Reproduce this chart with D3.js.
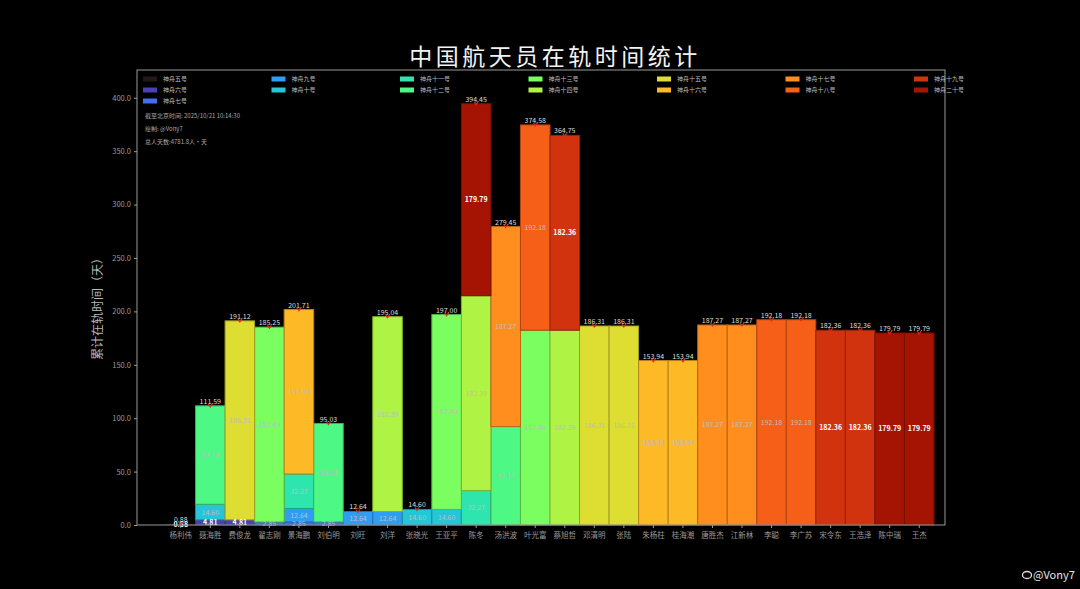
<!DOCTYPE html>
<html>
<head>
<meta charset="utf-8">
<script src="https://cdn.jsdelivr.net/npm/d3@7"></script>
<style>
  body { margin: 0; background: #000; }
  svg { display: block; }
  text { font-family: "Noto Sans CJK SC", "Noto Sans", sans-serif; }
</style>
</head>
<body>
<svg id="chart" width="1080" height="589"></svg>
<script>
// astronauts in x order
var astronauts = ["杨利伟", "聂海胜", "费俊龙", "翟志刚", "景海鹏", "刘伯明", "刘旺", "刘洋", "张晓光", "王亚平",
  "陈冬", "汤洪波", "叶光富", "蔡旭哲", "邓清明", "张陆", "朱杨柱", "桂海潮", "唐胜杰", "江新林",
  "李聪", "李广苏", "宋令东", "王浩泽", "陈中瑞", "王杰"];

var missions = ["神舟五号", "神舟六号", "神舟七号", "神舟九号", "神舟十号", "神舟十一号", "神舟十二号", "神舟十三号",
  "神舟十四号", "神舟十五号", "神舟十六号", "神舟十七号", "神舟十八号", "神舟十九号", "神舟二十号"];

// days in orbit per mission
var durations = [0.884, 4.81, 2.854, 12.644, 14.602, 32.266, 92.176, 182.396,
  182.394, 186.314, 153.944, 187.274, 192.184, 182.356, 179.788];

var crews = [
  ["杨利伟"],
  ["费俊龙", "聂海胜"],
  ["翟志刚", "刘伯明", "景海鹏"],
  ["景海鹏", "刘旺", "刘洋"],
  ["聂海胜", "张晓光", "王亚平"],
  ["景海鹏", "陈冬"],
  ["聂海胜", "刘伯明", "汤洪波"],
  ["翟志刚", "王亚平", "叶光富"],
  ["陈冬", "刘洋", "蔡旭哲"],
  ["费俊龙", "邓清明", "张陆"],
  ["景海鹏", "朱杨柱", "桂海潮"],
  ["汤洪波", "唐胜杰", "江新林"],
  ["叶光富", "李聪", "李广苏"],
  ["蔡旭哲", "宋令东", "王浩泽"],
  ["陈冬", "陈中瑞", "王杰"]
];

var yTicks = [0, 50, 100, 150, 200, 250, 300, 350, 400];
var notes = ["截至北京时间: 2025/10/21 10:14:30", "绘制: @Vony7"];

// build stacked segments per astronaut
var segments = [];
var totals = {};
astronauts.forEach(function(a) { totals[a] = 0; });
missions.forEach(function(m, i) {
  crews[i].forEach(function(a) {
    segments.push({ name: a, mission: m, idx: i, y0: totals[a], y1: totals[a] + durations[i], v: durations[i] });
    totals[a] += durations[i];
  });
});
var personDays = d3.sum(missions, function(m, i) { return durations[i] * crews[i].length; });
notes.push("总人天数:" + personDays.toFixed(1) + "人·天");

var svg = d3.select("#chart");
var plot = { left: 137, right: 945, top: 70, bottom: 525 };

var maxTotal = d3.max(astronauts, function(a) { return totals[a]; });

var x = d3.scaleBand()
    .domain(astronauts)
    .range([166, 934])
    .padding(0);

var y = d3.scaleLinear()
    .domain([0, maxTotal * 1.08])
    .range([plot.bottom, plot.top]);

var color = d3.scaleOrdinal()
    .domain(missions)
    .range(missions.map(function(m, i) { return d3.interpolateTurbo(i / missions.length); }));

function isDark(c) {
  var rgb = d3.rgb(c);
  var lum = 0.2126 * rgb.r / 255 + 0.7152 * rgb.g / 255 + 0.0722 * rgb.b / 255;
  return lum < 0.33;
}

// title
svg.append("text")
    .attr("x", 555)
    .attr("y", 65)
    .attr("text-anchor", "middle")
    .attr("fill", "#f2f2f2")
    .attr("font-size", 23)
    .attr("letter-spacing", 3.5)
    .text("中国航天员在轨时间统计");

// bars
var g = svg.append("g");
g.selectAll("rect.seg")
    .data(segments)
  .enter().append("rect")
    .attr("class", "seg")
    .attr("x", function(d) { return x(d.name); })
    .attr("width", x.bandwidth())
    .attr("y", function(d) { return y(d.y1); })
    .attr("height", function(d) { return y(d.y0) - y(d.y1); })
    .attr("fill", function(d) { return color(d.mission); })
    .attr("stroke", function(d) { return d3.color(color(d.mission)).darker(0.9); })
    .attr("stroke-width", 1);

// segment labels
g.selectAll("text.seg")
    .data(segments)
  .enter().append("text")
    .attr("class", "seg")
    .attr("x", function(d) { return x(d.name) + x.bandwidth() / 2; })
    .attr("y", function(d) { return (y(d.y0) + y(d.y1)) / 2 + 2.5; })
    .attr("text-anchor", "middle")
    .attr("font-size", 7)
    .attr("font-weight", function(d) { return isDark(color(d.mission)) ? "bold" : "normal"; })
    .attr("fill", function(d) { return isDark(color(d.mission)) ? "#ffffff" : "#bdbdbd"; })
    .text(function(d) { return d.v.toFixed(2); });

// total labels + red markers
g.selectAll("text.total")
    .data(astronauts)
  .enter().append("text")
    .attr("class", "total")
    .attr("x", function(d) { return x(d) + x.bandwidth() / 2; })
    .attr("y", function(d) { return y(totals[d]) - 2; })
    .attr("text-anchor", "middle")
    .attr("font-size", 7)
    .attr("fill", "#dddddd")
    .text(function(d) { return totals[d].toFixed(2); });

g.selectAll("path.mark")
    .data(astronauts)
  .enter().append("path")
    .attr("class", "mark")
    .attr("d", function(d) {
      var cx = x(d) + x.bandwidth() / 2, cy = y(totals[d]);
      return "M" + (cx - 2) + "," + (cy - 2) + "L" + cx + "," + (cy + 1) + "L" + (cx + 2) + "," + (cy - 2);
    })
    .attr("fill", "none")
    .attr("stroke", "#e8261a")
    .attr("stroke-width", 1.2);

// frame
svg.append("rect")
    .attr("x", plot.left)
    .attr("y", plot.top)
    .attr("width", plot.right - plot.left)
    .attr("height", plot.bottom - plot.top)
    .attr("fill", "none")
    .attr("stroke", "#9a9a9a")
    .attr("stroke-width", 1);

// axes
var yAxis = svg.append("g")
    .attr("transform", "translate(" + plot.left + ",0)")
    .call(d3.axisLeft(y).tickValues(yTicks).tickFormat(d3.format(".1f")).tickSize(3));
yAxis.select(".domain").remove();
yAxis.selectAll("line").attr("stroke", "#9a9a9a");
yAxis.selectAll("text").attr("fill", "#9a9a9a").attr("font-size", 7.5);

var xAxis = svg.append("g")
    .attr("transform", "translate(0," + plot.bottom + ")")
    .call(d3.axisBottom(x).tickSize(3));
xAxis.select(".domain").remove();
xAxis.selectAll("line").attr("stroke", "#9a9a9a");
xAxis.selectAll("text").attr("fill", "#9a9a9a").attr("font-size", 7.5).attr("dy", "0.9em");

// y label
svg.append("text")
    .attr("transform", "translate(102,306) rotate(-90)")
    .attr("text-anchor", "middle")
    .attr("fill", "#b8b8b8")
    .attr("font-size", 12)
    .text("累计在轨时间（天）");

// legend: 7 columns, column-major, first column gets 3 rows
var colStarts = [0, 3, 5, 7, 9, 11, 13];
var legend = svg.append("g");
missions.forEach(function(m, i) {
  var col = d3.bisectRight(colStarts, i) - 1;
  var row = i - colStarts[col];
  var lx = 143 + col * 128.5, ly = 79 + row * 11;
  legend.append("rect")
      .attr("x", lx).attr("y", ly - 2.5)
      .attr("width", 14).attr("height", 5)
      .attr("fill", color(m));
  legend.append("text")
      .attr("x", lx + 20).attr("y", ly + 2.2)
      .attr("font-size", 6)
      .attr("fill", "#bbbbbb")
      .text(m);
});

// notes
svg.selectAll("text.note")
    .data(notes)
  .enter().append("text")
    .attr("class", "note")
    .attr("x", 145)
    .attr("y", function(d, i) { return 118 + i * 13; })
    .attr("font-size", 6)
    .attr("fill", "#a8a8a8")
    .text(function(d) { return d; });

// watermark
svg.append("ellipse")
    .attr("cx", 1027).attr("cy", 575)
    .attr("rx", 4.5).attr("ry", 3.5)
    .attr("fill", "none")
    .attr("stroke", "#dddddd")
    .attr("stroke-width", 1.3);
svg.append("text")
    .attr("x", 1033)
    .attr("y", 579)
    .attr("font-size", 11)
    .attr("fill", "#e6e6e6")
    .text("@Vony7");
</script>
</body>
</html>
